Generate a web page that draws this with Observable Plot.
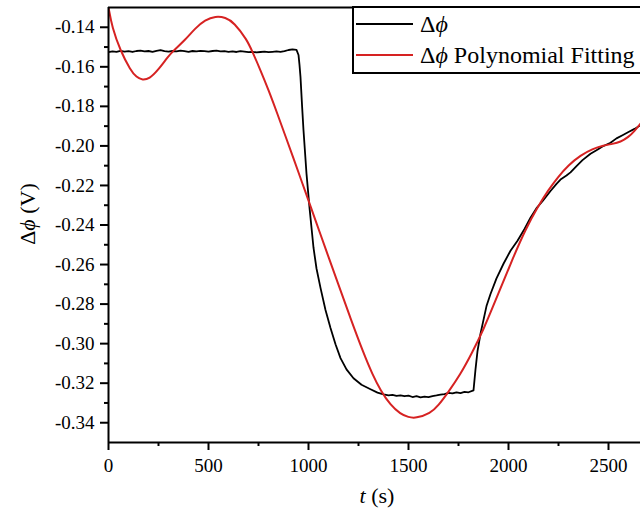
<!DOCTYPE html>
<html>
<head>
<meta charset="utf-8">
<script src="https://cdn.jsdelivr.net/npm/d3@7"></script>
<script src="https://cdn.jsdelivr.net/npm/@observablehq/plot@0.6"></script>
<style>
  html, body { margin: 0; padding: 0; background: #fff; }
  svg { display: block; }
</style>
</head>
<body style="margin:0">
<script>
// ---- data (t in s, Δϕ in V) ----
const blackFlat = [
  [0,-0.1526],[20,-0.1522],[40,-0.1524],[60,-0.1519],[80,-0.1523],[100,-0.1521],[120,-0.1525],[140,-0.1520],
  [160,-0.1518],[180,-0.1522],[200,-0.1520],[220,-0.1524],[240,-0.1519],[260,-0.1516],[280,-0.1521],[300,-0.1523],
  [320,-0.1520],[340,-0.1522],[360,-0.1518],[380,-0.1521],[400,-0.1524],[420,-0.1520],[440,-0.1522],[460,-0.1519],
  [480,-0.1521],[500,-0.1523],[520,-0.1520],[540,-0.1518],[560,-0.1522],[580,-0.1521],[600,-0.1524],[620,-0.1522],
  [640,-0.1525],[660,-0.1521],[680,-0.1523],[700,-0.1526],[720,-0.1524],[740,-0.1527],[760,-0.1525],[780,-0.1523],
  [800,-0.1526],[820,-0.1524],[840,-0.1522],[860,-0.1524],[880,-0.1521],[900,-0.1515],[920,-0.1512],[940,-0.1514]
];
const blackDrop = [
  [950,-0.1540],[955,-0.1590],[960,-0.1652],[968,-0.1800],[975,-0.1921],[990,-0.2140],[1005,-0.2312],
  [1025,-0.2515],[1040,-0.2620],[1060,-0.2718],[1085,-0.2830],[1110,-0.2921],[1135,-0.3003],[1160,-0.3073],
  [1190,-0.3130],[1225,-0.3175],[1265,-0.3208],[1310,-0.3231],[1345,-0.3248],[1375,-0.3257]
];
const blackBottom = [
  [1400,-0.3262],[1420,-0.3259],[1440,-0.3264],[1460,-0.3262],[1480,-0.3266],[1500,-0.3263],[1520,-0.3270],
  [1540,-0.3266],[1560,-0.3272],[1580,-0.3268],[1600,-0.3270],[1620,-0.3265],[1640,-0.3262],[1660,-0.3258],
  [1680,-0.3255],[1700,-0.3249],[1720,-0.3252],[1740,-0.3246],[1760,-0.3250],[1780,-0.3244],[1800,-0.3246],[1825,-0.3236]
];
const blackRise = [
  [1835,-0.3130],[1845,-0.3038],[1860,-0.2950],[1875,-0.2880],[1890,-0.2810],[1910,-0.2749],[1940,-0.2670],
  [1975,-0.2596],[2010,-0.2530],[2045,-0.2480],[2080,-0.2420],[2110,-0.2363],[2140,-0.2315],[2170,-0.2280],
  [2210,-0.2228],[2240,-0.2192],[2260,-0.2170],[2290,-0.2150],[2310,-0.2134],[2340,-0.2102],[2370,-0.2072],
  [2410,-0.2040],[2440,-0.2022],[2470,-0.2003],[2510,-0.1984],[2540,-0.1962],[2570,-0.1946],[2600,-0.1930],
  [2630,-0.1914],[2660,-0.1895]
];
const fitCurve = [
  [0,-0.1300],[18,-0.1400],[60,-0.1520],[110,-0.1617],[140,-0.1653],[170,-0.1668],[205,-0.1660],[245,-0.1620],
  [293,-0.1555],[320,-0.1522],[383,-0.1465],[433,-0.1405],[483,-0.1363],[535,-0.1343],[585,-0.1350],[627,-0.1375],
  [693,-0.1464],[718,-0.1520],[760,-0.1617],[800,-0.1717],[845,-0.1839],[885,-0.1951],[925,-0.2063],[970,-0.2191],
  [1010,-0.2305],[1060,-0.2448],[1100,-0.2562],[1145,-0.2688],[1210,-0.2872],[1275,-0.3048],[1320,-0.3156],
  [1360,-0.3236],[1410,-0.3311],[1460,-0.3356],[1500,-0.3372],[1535,-0.3378],[1610,-0.3353],[1650,-0.3312],
  [1695,-0.3251],[1760,-0.3155],[1815,-0.3052],[1875,-0.2930],[1950,-0.2745],[2025,-0.2560],[2085,-0.2422],
  [2145,-0.2310],[2200,-0.2222],[2245,-0.2160],[2300,-0.2097],[2360,-0.2048],[2420,-0.2015],[2475,-0.1998],
  [2520,-0.1990],[2560,-0.1980],[2600,-0.1955],[2630,-0.1925],[2660,-0.1887]
];
const xMajor = [0, 500, 1000, 1500, 2000, 2500];
const xMinor = [250, 750, 1250, 1750, 2250];
const yMajor = [-0.34, -0.32, -0.30, -0.28, -0.26, -0.24, -0.22, -0.20, -0.18, -0.16, -0.14];
const yMinor = [-0.33, -0.31, -0.29, -0.27, -0.25, -0.23, -0.21, -0.19, -0.17, -0.15];
const xDomain = [0, 2660];
const yDomain = [-0.35, -0.13];
const seriesColors = ["#000000", "#d62222"];

const blackData = [...blackFlat, ...blackDrop, ...blackBottom, ...blackRise].map(([t, v]) => ({t, v}));
const fitData = fitCurve.map(([t, v]) => ({t, v}));

const FONT = "'Liberation Serif', Tinos, 'Times New Roman', serif";

const svg = Plot.plot({
  width: 640,
  height: 515,
  marginLeft: 108,
  marginRight: 0,
  marginTop: 7,
  marginBottom: 73,
  x: {domain: xDomain},
  y: {domain: yDomain},
  style: {fontFamily: "Liberation Serif", fontSize: "19px", color: "#000", background: "#fff"},
  marks: [
    Plot.axisX(xMajor, {tickSize: 8, tickPadding: 8, strokeWidth: 2, label: null, tickFormat: d => String(d)}),
    Plot.axisX(xMinor, {tickSize: 4, strokeWidth: 2, label: null, tickFormat: () => ""}),
    Plot.axisY(yMajor, {tickSize: 8, tickPadding: 6, strokeWidth: 2, label: null, tickFormat: d => d.toFixed(2)}),
    Plot.axisY(yMinor, {tickSize: 4, strokeWidth: 2, label: null, tickFormat: () => ""}),
    Plot.line(blackData, {x: "t", y: "v", stroke: seriesColors[0], strokeWidth: 1.8, clip: true}),
    Plot.line(fitData, {x: "t", y: "v", stroke: seriesColors[1], strokeWidth: 2, curve: "basis", clip: true}),
    Plot.ruleY([yDomain[0]], {strokeWidth: 2}),
    Plot.ruleY([yDomain[1]], {strokeWidth: 2}),
    Plot.ruleX([xDomain[0]], {strokeWidth: 2})
  ]
});
document.body.appendChild(svg);

const s = d3.select(svg);
// axis titles (with italic symbols)
const yt = s.append("text")
  .attr("transform", "translate(35,214) rotate(-90)")
  .attr("text-anchor", "middle")
  .attr("font-size", 22).attr("fill", "#000");
yt.append("tspan").text("\u0394");
yt.append("tspan").attr("font-style", "italic").text("\u03D5");
yt.append("tspan").text(" (V)");

const xt = s.append("text")
  .attr("x", 377).attr("y", 503)
  .attr("text-anchor", "middle")
  .attr("font-size", 22).attr("fill", "#000");
xt.append("tspan").attr("font-style", "italic").text("t");
xt.append("tspan").text(" (s)");

// legend
const lg = s.append("g");
lg.append("rect").attr("x", 353).attr("y", 7).attr("width", 320).attr("height", 66)
  .attr("fill", "#fff").attr("stroke", "#000").attr("stroke-width", 2);
const rows = [24, 55];
[0, 1].forEach(i => {
  lg.append("line").attr("x1", 356).attr("x2", 413).attr("y1", rows[i]).attr("y2", rows[i])
    .attr("stroke", seriesColors[i]).attr("stroke-width", 2);
  const t = lg.append("text").attr("x", 420).attr("y", rows[i] + 8)
    .attr("text-anchor", "start")
    .attr("font-size", 24).attr("fill", "#000");
  t.append("tspan").text("\u0394");
  t.append("tspan").attr("font-style", "italic").text("\u03D5");
  if (i === 1) t.append("tspan").text(" Polynomial Fitting");
});

// force the serif face on every text with inline !important declarations
s.selectAll("text, tspan").each(function () {
  this.style.setProperty("font-family", FONT, "important");
});
</script>
</body>
</html>
